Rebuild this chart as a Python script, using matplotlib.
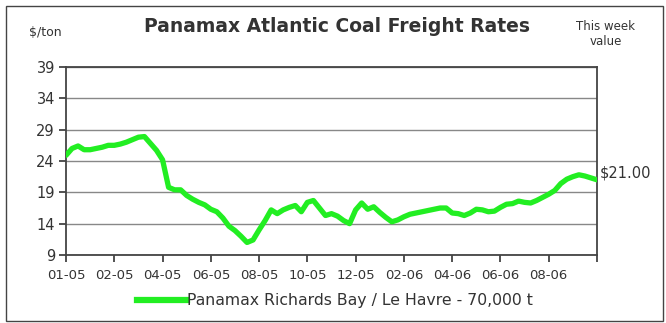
import matplotlib

matplotlib.use("Agg")
import matplotlib.pyplot as plt
from matplotlib.lines import Line2D
from matplotlib.patches import Rectangle

plt.rcParams["font.family"] = ["DejaVu Sans"]

# weekly freight rate, $/ton, Jan 2005 to Oct 2006
rates = [
    24.9, 26.0, 26.4, 25.8, 25.8, 26.0, 26.2, 26.5, 26.5, 26.7,
    27.0, 27.4, 27.8, 27.9, 26.8, 25.7, 24.2, 19.8, 19.4, 19.4,
    18.5, 17.9, 17.4, 17.0, 16.3, 15.9, 14.9, 13.6, 12.9, 12.0,
    11.0, 11.4, 13.0, 14.5, 16.2, 15.6, 16.2, 16.6, 16.9, 15.9,
    17.4, 17.7, 16.5, 15.3, 15.6, 15.2, 14.5, 14.0, 16.2, 17.3,
    16.3, 16.7, 15.8, 15.0, 14.3, 14.6, 15.1, 15.5, 15.7, 15.9,
    16.1, 16.3, 16.5, 16.5, 15.7, 15.6, 15.3, 15.7, 16.3, 16.2,
    15.9, 16.0, 16.6, 17.1, 17.2, 17.6, 17.4, 17.3, 17.7, 18.2,
    18.7, 19.3, 20.4, 21.1, 21.5, 21.8, 21.6, 21.3, 21.0,
]
tick_labels = ["01-05", "02-05", "04-05", "06-05", "08-05", "10-05",
               "12-05", "02-06", "04-06", "06-06", "08-06", ""]
y_ticks = [9, 14, 19, 24, 29, 34, 39]
series_name = "Panamax Richards Bay / Le Havre - 70,000 t"
this_week = "$21.00"

GREEN = "#22ee22"
TEXT = "#333333"

fig = plt.figure(figsize=(6.66, 3.23), dpi=100)
fig.patches.append(Rectangle((6 / 666, 2 / 323), 657 / 666, 315 / 323,
                             transform=fig.transFigure, fill=False,
                             edgecolor="#444444", linewidth=1.0))

ax = fig.add_axes([66 / 666, 68 / 323, 531 / 666, 188 / 323])
x = list(range(len(rates)))
ax.plot(x, rates, color=GREEN, linewidth=3.8, solid_capstyle="round",
        solid_joinstyle="round", zorder=3)

ax.set_xlim(0, len(rates) - 1)
ax.set_ylim(9, 39)
ax.set_yticks(y_ticks)
ax.set_yticklabels([str(v) for v in y_ticks])
ax.set_xticks(range(0, len(rates), 8))
ax.set_xticklabels(tick_labels)
ax.grid(True, axis="y", color="#888888", linewidth=1.0)
ax.tick_params(axis="both", direction="out", length=5, width=1.2,
               color="#333333", labelcolor=TEXT)
ax.tick_params(axis="y", labelsize=10.5, pad=3)
ax.tick_params(axis="x", labelsize=9.5, pad=5)
for side in ("left", "bottom", "top", "right"):
    ax.spines[side].set_color("#444444")
    ax.spines[side].set_linewidth(1.3)

fig.text(337 / 666, 1 - 26 / 323, "Panamax Atlantic Coal Freight Rates",
         ha="center", va="center", fontsize=13.5, fontweight="bold", color=TEXT)
fig.text(45 / 666, 1 - 33 / 323, "$/ton", ha="center", va="center",
         fontsize=9, color=TEXT)
fig.text(606 / 666, 1 - 34 / 323, "This week\nvalue", ha="center",
         va="center", fontsize=8.5, color=TEXT, linespacing=1.2)
ax.annotate(this_week, xy=(1, rates[-1]), xycoords=("axes fraction", "data"),
            xytext=(2, 5), textcoords="offset points", ha="left", va="center",
            fontsize=10.5, color=TEXT)

handle = Line2D([], [], color=GREEN, linewidth=4.5)
fig.legend([handle], [series_name], loc="center", frameon=False,
           bbox_to_anchor=(335 / 666, 1 - 301 / 323), fontsize=11.3,
           handlelength=3.2, handletextpad=0.0, labelcolor=TEXT)

fig.savefig("out.png", dpi=100)
